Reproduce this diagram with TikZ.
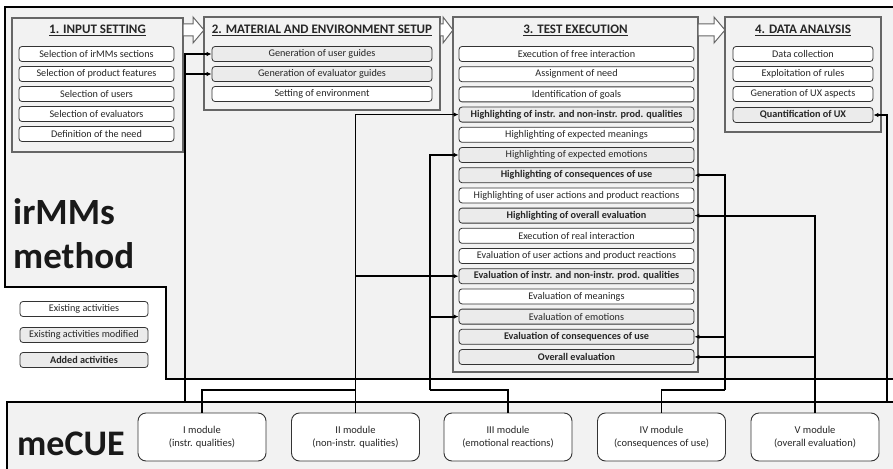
\documentclass[tikz,border=0pt]{standalone}
\usepackage{fontspec}
\setmainfont{Carlito}
\usetikzlibrary{arrows.meta}
\definecolor{regionbg}{HTML}{F2F2F2}
\definecolor{modbg}{HTML}{EBEBEB}
\definecolor{boxline}{HTML}{333333}
\definecolor{panelline}{HTML}{666666}
\begin{document}
\begin{tikzpicture}[x=1pt,y=-1pt,
  regionline/.style={draw=black,line width=2.2pt,fill=regionbg},
  panel/.style={draw=panelline,line width=1.1pt,fill=regionbg},
  paneltitle/.style={font=\fontsize{13}{15}\selectfont\bfseries,text=black!85,inner sep=0pt},
  act/.style={draw=boxline,line width=0.8pt,rounded corners=3pt,fill=white,
    minimum height=15pt,inner sep=0pt,text=black!85,
    font=\fontsize{10.2}{12}\selectfont},
  actmod/.style={act,fill=modbg},
  actadd/.style={act,fill=modbg,font=\fontsize{10.2}{12}\selectfont\bfseries},
  module/.style={draw=boxline,line width=0.9pt,rounded corners=8pt,fill=white,
    minimum width=128pt,minimum height=48pt,inner sep=0pt,align=center,
    text=black!85,font=\fontsize{10.5}{13}\selectfont},
  bigtext/.style={font=\fontsize{37}{40}\selectfont\bfseries,text=black!90,inner sep=0pt,anchor=base west},
  conn/.style={draw=black,line width=1.8pt},
  connarrow/.style={conn,-{Latex[length=5pt,width=4.5pt]}},
  blockarrow/.style={draw=panelline,line width=1pt,fill=white}
]
\useasboundingbox (0,0) rectangle (893,468);
\clip (0,0) rectangle (893,468);

% irMMs method region and meCUE region
\draw[regionline] (5,7) -- (905,7) -- (905,379) -- (166,379) -- (166,287) -- (5,287) -- cycle;
\draw[regionline] (7,402) -- (905,402) -- (905,480) -- (7,480) -- cycle;

\node[bigtext] (irmms) at (13,224) {irMMs};
\node[bigtext] (method) at (13,268) {method};
\node[bigtext,font=\fontsize{36}{40}\selectfont\bfseries] (mecue) at (17,455) {meCUE};

% phase panels
\draw[panel] (12,18) rectangle (183,152);
\draw[panel] (204,17) rectangle (440,110);
\draw[panel] (453,17) rectangle (698,372);
\draw[panel] (725,17) rectangle (881,132);

\node[paneltitle] (t1) at (97.5,30) {\underline{1. INPUT SETTING}};
\node[paneltitle] (t2) at (322,30) {\underline{2. MATERIAL AND ENVIRONMENT SETUP}};
\node[paneltitle] (t3) at (575.5,30) {\underline{3. TEST EXECUTION}};
\node[paneltitle] (t4) at (803,30) {\underline{4. DATA ANALYSIS}};

% block arrows between phases
\draw[blockarrow] (183,24) -- (193,24) -- (193,17) -- (204,30) -- (193,43) -- (193,36) -- (183,36) -- cycle;
\draw[blockarrow] (440,24) -- (443,24) -- (443,17) -- (453,30) -- (443,43) -- (443,36) -- (440,36) -- cycle;
\draw[blockarrow] (698,24) -- (714,24) -- (714,17) -- (725,30) -- (714,43) -- (714,36) -- (698,36) -- cycle;

% 1. input setting
\begin{scope}[every node/.append style={minimum width=155pt}]
\node[act] (in1) at (96.5,54) {Selection of irMMs sections};
\node[act] (in2) at (96.5,74) {Selection of product features};
\node[act] (in3) at (96.5,94) {Selection of users};
\node[act] (in4) at (96.5,114) {Selection of evaluators};
\node[act] (in5) at (96.5,134) {Definition of the need};
\end{scope}

% 2. material and environment setup
\begin{scope}[every node/.append style={minimum width=220pt}]
\node[actmod] (mt1) at (322,54) {Generation of user guides};
\node[actmod] (mt2) at (322,74) {Generation of evaluator guides};
\node[act] (mt3) at (322,94) {Setting of environment};
\end{scope}

% 3. test execution
\begin{scope}[every node/.append style={minimum width=235pt}]
\node[act] (te1) at (576.5,54) {Execution of free interaction};
\node[act] (te2) at (576.5,74.2) {Assignment of need};
\node[act] (te3) at (576.5,94.4) {Identification of goals};
\node[actadd] (te4) at (576.5,114.6) {Highlighting of instr. and non-instr. prod. qualities};
\node[act] (te5) at (576.5,134.8) {Highlighting of expected meanings};
\node[actmod] (te6) at (576.5,155) {Highlighting of expected emotions};
\node[actadd] (te7) at (576.5,175.2) {Highlighting of consequences of use};
\node[act] (te8) at (576.5,195.4) {Highlighting of user actions and product reactions};
\node[actadd] (te9) at (576.5,215.6) {Highlighting of overall evaluation};
\node[act] (te10) at (576.5,235.8) {Execution of real interaction};
\node[act] (te11) at (576.5,256) {Evaluation of user actions and product reactions};
\node[actadd] (te12) at (576.5,276.2) {Evaluation of instr. and non-instr. prod. qualities};
\node[act] (te13) at (576.5,296.4) {Evaluation of meanings};
\node[actmod] (te14) at (576.5,316.6) {Evaluation of emotions};
\node[actadd] (te15) at (576.5,336.8) {Evaluation of consequences of use};
\node[actadd] (te16) at (576.5,357) {Overall evaluation};
\end{scope}

% 4. data analysis
\begin{scope}[every node/.append style={minimum width=140pt}]
\node[act] (da1) at (803,54) {Data collection};
\node[act] (da2) at (803,74) {Exploitation of rules};
\node[act] (da3) at (803,94) {Generation of UX aspects};
\node[actadd] (da4) at (803,115) {Quantification of UX};
\end{scope}

% legend
\begin{scope}[every node/.append style={minimum width=128pt}]
\node[act] (lg1) at (84,309) {Existing activities};
\node[actmod] (lg2) at (84,335) {Existing activities modified};
\node[actadd] (lg3) at (84,360) {Added activities};
\end{scope}

% meCUE modules
\node[module] (m1) at (202,437) {I module\\(instr. qualities)};
\node[module] (m2) at (355.5,437) {II module\\(non-instr. qualities)};
\node[module] (m3) at (508,437) {III module\\(emotional reactions)};
\node[module] (m4) at (661.5,437) {IV module\\(consequences of use)};
\node[module] (m5) at (815,437) {V module\\(overall evaluation)};

% connector anchor points
\coordinate (bus) at (0,390);
\coordinate (c3) at (430,390);
\coordinate (c4) at (725,390);
\coordinate (k1) at (185,402);
\coordinate (k2) at (887,402);

% meCUE to guides
\draw[connarrow] (k1) |- (mt1.west);
\draw[connarrow] (k1 |- mt2.west) -- (mt2.west);
% I and II modules
\draw[conn] (m1.north) |- (m2.north |- bus);
\draw[connarrow] (m2.north) |- (te4.west);
\draw[connarrow] (m2.north |- te12.west) -- (te12.west);
% III module
\draw[conn] (m3.north) |- (c3);
\draw[connarrow] (c3) |- (te6.west);
\draw[connarrow] (c3 |- te14.west) -- (te14.west);
% IV module
\draw[conn] (m4.north) |- (c4);
\draw[connarrow] (c4) |- (te7.east);
\draw[connarrow] (c4 |- te15.east) -- (te15.east);
% V module
\draw[connarrow] (m5.north) |- (te9.east);
\draw[connarrow] (m5.north |- te16.east) -- (te16.east);
% meCUE to quantification
\draw[connarrow] (k2) |- (da4.east);
\end{tikzpicture}
\end{document}
